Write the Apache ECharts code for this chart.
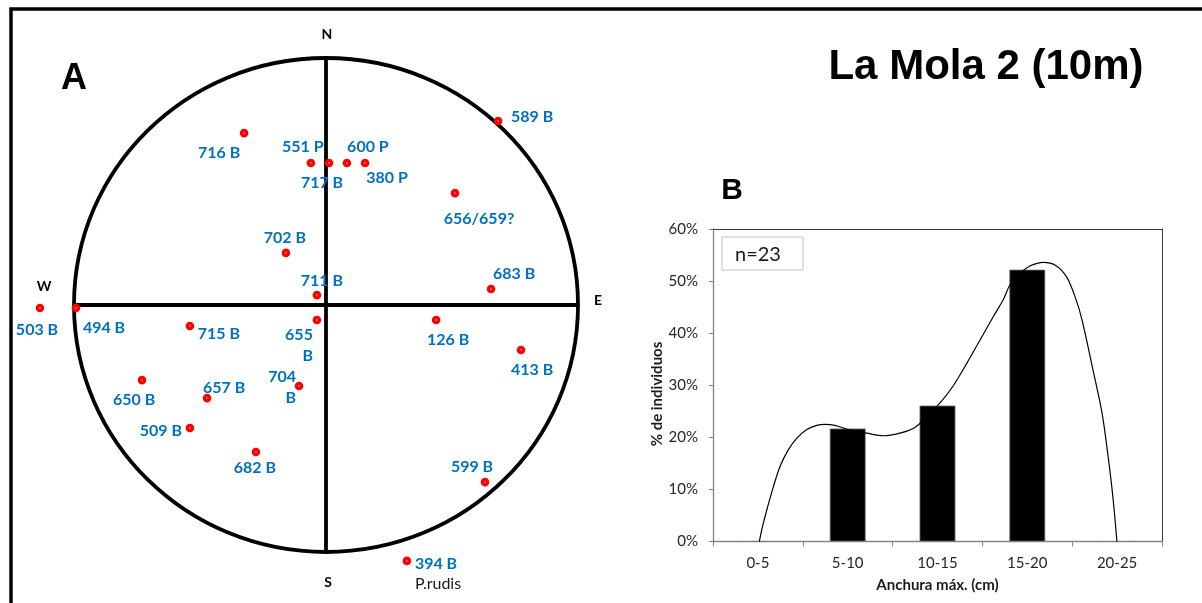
<!DOCTYPE html>
<html>
<head>
<meta charset="utf-8">
<title>La Mola 2 (10m)</title>
<script src="https://cdn.jsdelivr.net/npm/echarts@6/dist/echarts.min.js"></script>
<style>
  html, body { margin: 0; padding: 0; background: #fff; }
  #chart { width: 1202px; height: 603px; }
</style>
</head>
<body>
<div id="chart"></div>
<script>
// ---- Panel A: specimen positions on the orientation circle (unit radius) ----
const stationLabels = ['716 B', '551 P', '717 B', '600 P', '380 P', '702 B', '711 B', '589 B',
  '656/659?', '683 B', '503 B', '494 B', '715 B', '655 B', '704 B', '650 B', '657 B',
  '509 B', '682 B', '126 B', '413 B', '599 B', '394 B'];
const stationEast = [-0.325, -0.060, 0.012, 0.083, 0.155, -0.159, -0.036, 0.683,
  0.512, 0.655, -1.135, -0.992, -0.540, -0.036, -0.107, -0.730, -0.472,
  -0.540, -0.278, 0.437, 0.774, 0.631, 0.321];
const stationNorth = [0.696, 0.575, 0.575, 0.575, 0.575, 0.211, 0.040, 0.745,
  0.453, 0.065, -0.012, -0.012, -0.085, -0.061, -0.328, -0.304, -0.377,
  -0.498, -0.595, -0.061, -0.182, -0.717, -1.036];
const stationNotes = {'394 B': 'P.rudis'};

// label placement around each dot: [dx, dy, align, split onto two lines]
const labelPlacement = [
  [-25, 20], [-8, -16], [-7, 20], [21, -16], [22, 15], [-1, -15], [5, -14], [34, -4],
  [24, 26], [23, -15], [-3, 22], [28, 20], [29, 8], [-4, 25, 'right', true], [-3, 1, 'right', true],
  [-8, 20], [17, -10], [-29, 3], [-1, 16], [12, 20], [11, 20], [-13, -15], [8, 13, 'left']
];

// ---- Panel B: width-class histogram ----
const widthClasses = ['0-5', '5-10', '10-15', '15-20', '20-25'];
const pctIndividuals = [0, 21.7, 26.1, 52.2, 0];
const sampleSize = 23;
// smoothed distribution curve, x in cm (0-25), y in %
const curveCm = [2.58, 2.71, 2.99, 3.36, 3.73, 4.19, 4.66, 5.22, 5.77, 6.24, 6.79, 7.63, 8.56,
  9.48, 10.41, 11.15, 11.62, 12.64, 13.38, 14.13, 14.87, 15.61, 16.16, 16.54, 17.09, 17.65,
  18.39, 19.04, 19.69, 20.22, 20.55, 21.16, 21.66, 21.99, 22.27, 22.49];
const curvePct = [0, 2.2, 6.0, 10.5, 14.4, 17.6, 19.8, 21.5, 22.3, 22.5, 22.3, 21.4, 20.8,
  20.3, 20.8, 21.7, 23.0, 26.6, 29.9, 34.2, 38.7, 43.2, 46.4, 49.3, 51.5, 52.9,
  53.6, 53.1, 50.8, 46.4, 42.5, 32.9, 24.7, 16.6, 8.4, 0];
const yTicksMax = 60;

const BLUE = '#0070C0';
const SANS = 'Lato, "Open Sans", sans-serif';
const ARIAL = '"Liberation Sans", Arial, sans-serif';

const stationData = stationLabels.map((name, i) => {
  const p = labelPlacement[i];
  const note = stationNotes[name];
  const label = {
    offset: [p[0], p[1]],
    align: p[2] || 'center'
  };
  if (note) {
    label.formatter = '{a|' + name + '}\n{b|' + note + '}';
  } else if (p[3]) {
    label.formatter = name.replace(' ', '\n');
  }
  return { name: name, value: [stationEast[i], stationNorth[i]], label: label };
});

const chart = echarts.init(document.getElementById('chart'), null, { renderer: 'canvas' });

const option = {
  backgroundColor: '#fff',
  animation: false,
  grid: [
    { left: 11, top: 8.6, width: 630, height: 592.8 },
    { left: 713, top: 229, width: 449, height: 312.5 }
  ],
  xAxis: [
    { gridIndex: 0, type: 'value', min: -1.25, max: 1.25, show: false },
    {
      gridIndex: 1, type: 'category', data: widthClasses, position: 'bottom',
      axisLine: { show: true, lineStyle: { color: '#868686', width: 1.3 } },
      axisTick: { show: true, inside: false, length: 5, lineStyle: { color: '#868686' } },
      axisLabel: { margin: 14, fontFamily: SANS, fontSize: 15, color: '#262626' },
      name: 'Anchura máx. (cm)', nameLocation: 'middle', nameGap: 36,
      nameTextStyle: { fontFamily: SANS, fontWeight: 'bold', fontSize: 15, color: '#1a1a1a' },
      splitLine: { show: false }
    },
    { gridIndex: 1, type: 'value', min: 0, max: 25, show: false },
    {
      gridIndex: 1, type: 'value', position: 'top', min: 0, max: 1,
      axisLine: { show: true, onZero: false, lineStyle: { color: '#3a3a3a', width: 1 } },
      axisTick: { show: false }, axisLabel: { show: false }, splitLine: { show: false }
    }
  ],
  yAxis: [
    { gridIndex: 0, type: 'value', min: -1.2, max: 1.2, show: false },
    {
      gridIndex: 1, type: 'value', min: 0, max: yTicksMax, interval: 10,
      axisLine: { show: true, lineStyle: { color: '#868686', width: 1.3 } },
      axisTick: { show: true, inside: false, length: 4, lineStyle: { color: '#868686' } },
      axisLabel: { formatter: '{value}%', margin: 15, fontFamily: SANS, fontSize: 15, color: '#262626' },
      splitLine: { show: false }
    },
    {
      gridIndex: 1, type: 'value', position: 'right', min: 0, max: yTicksMax,
      axisLine: { show: true, onZero: false, lineStyle: { color: '#3a3a3a', width: 1 } },
      axisTick: { show: false }, axisLabel: { show: false }, splitLine: { show: false }
    }
  ],
  series: [
    {
      type: 'scatter', name: 'Especímenes', xAxisIndex: 0, yAxisIndex: 0,
      symbol: 'circle', symbolSize: 5, z: 5,
      itemStyle: { color: '#ffffff', borderColor: '#FF0000', borderWidth: 3.6, opacity: 1 },
      label: {
        show: true, position: 'inside', formatter: '{b}',
        fontFamily: SANS, fontWeight: 'bold', fontSize: 16, color: BLUE,
        verticalAlign: 'middle', lineHeight: 21,
        rich: {
          a: { fontFamily: SANS, fontWeight: 'bold', fontSize: 16, color: BLUE, lineHeight: 20 },
          b: { fontFamily: SANS, fontWeight: 'normal', fontSize: 16, color: '#1a1a1a', lineHeight: 20 }
        }
      },
      emphasis: { disabled: true },
      data: stationData
    },
    {
      type: 'bar', name: '% de individuos', xAxisIndex: 1, yAxisIndex: 1,
      barWidth: '40%',
      itemStyle: { color: '#000000', borderColor: '#7a7a7a', borderWidth: 0.8 },
      emphasis: { disabled: true },
      data: pctIndividuals
    },
    {
      type: 'line', name: 'Curva', xAxisIndex: 2, yAxisIndex: 1,
      smooth: 0.3, showSymbol: false, symbol: 'none', z: 4,
      lineStyle: { color: '#000000', width: 1.2 },
      emphasis: { disabled: true },
      data: curveCm.map((c, i) => [c, curvePct[i]])
    }
  ]
};

chart.setOption(option);

// Circle outline, N-S / E-W cross, frame and panel texts
function px(pt) { return chart.convertToPixel({ gridIndex: 0 }, pt); }
const c0 = px([0, 0]);
const east = px([1, 0]);
const west = px([-1, 0]);
const north = px([0, 1]);
const south = px([0, -1]);

chart.setOption({
  graphic: [
    {
      type: 'polyline', silent: true, z: 1,
      shape: { points: [[11, 603], [11, 9], [1202, 9]] },
      style: { stroke: '#000', lineWidth: 3.5, fill: null }
    },
    {
      type: 'ellipse', silent: true, z: 1,
      shape: { cx: c0[0], cy: c0[1], rx: east[0] - c0[0], ry: c0[1] - north[1] },
      style: { stroke: '#000', lineWidth: 3.8, fill: null }
    },
    {
      type: 'line', silent: true, z: 1,
      shape: { x1: west[0], y1: west[1], x2: east[0], y2: east[1] },
      style: { stroke: '#000', lineWidth: 3.8 }
    },
    {
      type: 'line', silent: true, z: 1,
      shape: { x1: north[0], y1: north[1], x2: south[0], y2: south[1] },
      style: { stroke: '#000', lineWidth: 3.8 }
    },
    { type: 'text', x: 327, y: 34, silent: true,
      style: { text: 'N', font: 'bold 14px ' + SANS, fill: '#000', align: 'center', verticalAlign: 'middle' } },
    { type: 'text', x: 328, y: 582, silent: true,
      style: { text: 'S', font: 'bold 14px ' + SANS, fill: '#000', align: 'center', verticalAlign: 'middle' } },
    { type: 'text', x: 44, y: 286, silent: true,
      style: { text: 'W', font: 'bold 14px ' + SANS, fill: '#000', align: 'center', verticalAlign: 'middle' } },
    { type: 'text', x: 598, y: 300, silent: true,
      style: { text: 'E', font: 'bold 14px ' + SANS, fill: '#000', align: 'center', verticalAlign: 'middle' } },
    { type: 'text', x: 74, y: 79, silent: true,
      style: { text: 'A', font: 'bold 36px ' + ARIAL, fill: '#000', align: 'center', verticalAlign: 'middle' } },
    { type: 'text', x: 732, y: 191, silent: true,
      style: { text: 'B', font: 'bold 30px ' + ARIAL, fill: '#000', align: 'center', verticalAlign: 'middle' } },
    { type: 'text', x: 986, y: 67, silent: true,
      style: { text: 'La Mola 2 (10m)', font: 'bold 42px ' + ARIAL, fill: '#000', align: 'center', verticalAlign: 'middle' } },
    { type: 'text', x: 657, y: 394, rotation: Math.PI / 2, silent: true,
      style: { text: '% de individuos', font: 'bold 15px ' + SANS, fill: '#1a1a1a', align: 'center', verticalAlign: 'middle' } },
    {
      type: 'group', x: 722, y: 237, silent: true,
      children: [
        { type: 'rect', shape: { x: 0, y: 0, width: 81, height: 33 },
          style: { fill: '#fff', stroke: '#c4c4c4', lineWidth: 1 } },
        { type: 'text', x: 13, y: 18,
          style: { text: 'n=' + sampleSize, font: '20px ' + SANS, fill: '#1a1a1a', align: 'left', verticalAlign: 'middle' } }
      ]
    }
  ]
});
</script>
</body>
</html>
